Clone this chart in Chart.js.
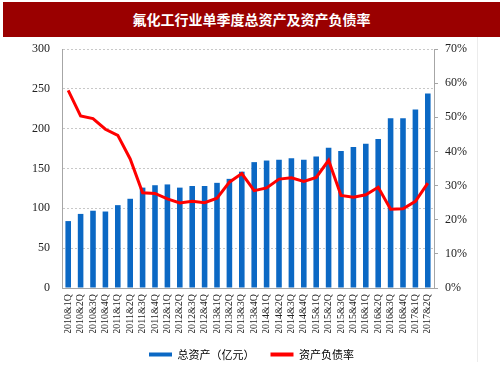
<!DOCTYPE html>
<html>
<head>
<meta charset="utf-8">
<script src="https://cdn.jsdelivr.net/npm/chart.js@4"></script>
<style>
html,body{margin:0;padding:0;background:#fff;}
#wrap{position:relative;width:503px;height:378px;overflow:hidden;}
#banner{position:absolute;left:3px;top:2px;width:497px;height:35px;background:#9a0000;color:#fff;
font-family:"Noto Sans CJK SC",sans-serif;font-weight:700;font-size:14px;line-height:35px;text-align:center;}
#rline{position:absolute;left:477px;top:37px;width:1px;height:325px;background:#ececec;}
canvas{position:absolute;left:0;top:0;}
</style>
</head>
<body>
<div id="wrap">
<canvas id="c" width="503" height="378"></canvas>
<div id="banner">氟化工行业单季度总资产及资产负债率</div>
<div id="rline"></div>
</div>
<script>
const categories = ["2010&1Q","2010&2Q","2010&3Q","2010&4Q","2011&1Q","2011&2Q","2011&3Q","2011&4Q",
"2012&1Q","2012&2Q","2012&3Q","2012&4Q","2013&1Q","2013&2Q","2013&3Q","2013&4Q",
"2014&1Q","2014&2Q","2014&3Q","2014&4Q","2015&1Q","2015&2Q","2015&3Q","2015&4Q",
"2016&1Q","2016&2Q","2016&3Q","2016&4Q","2017&1Q","2017&2Q"];
const totalAssets = [84,93,97,96,104,112,126,129,130,126,128,128,132,137,146,158,
160,161,163,161,165,176,172,177,181,187,213,213,224,244];
const debtRatio = [57.9,50.4,49.6,46.5,44.7,37.8,27.9,27.7,26.1,24.9,25.4,25.0,26.3,31.0,33.5,28.5,
29.3,31.9,32.3,31.2,32.4,37.4,27.1,26.6,27.3,29.5,23.1,23.2,25.4,30.7];
const leftTicks = [0,50,100,150,200,250,300];
const rightTicks = [0,10,20,30,40,50,60,70];

const axisGray = '#a6a6a6';
const serif = 'Liberation Serif';

new Chart(document.getElementById('c'), {
  data: {
    labels: categories,
    datasets: [
      {type:'bar', label:'总资产（亿元）', data: totalAssets, yAxisID:'y',
       backgroundColor:'#0b68c4', borderWidth:0, barPercentage:0.45, categoryPercentage:1, order:2},
      {type:'line', label:'资产负债率', data: debtRatio, yAxisID:'y2',
       borderColor:'#ff0000', backgroundColor:'#ff0000', borderWidth:3, pointRadius:0, tension:0, order:1}
    ]
  },
  options: {
    responsive:false, animation:false,
    layout:{padding:{top:49,left:0,right:0,bottom:8}},
    plugins:{
      tooltip:{enabled:false},
      legend:{position:'bottom',
        labels:{boxWidth:23, boxHeight:4, padding:16, color:'#333',
          font:{family:'Noto Sans CJK SC', size:11},
          generateLabels(chart){
            return chart.data.datasets.map((d,i)=>({text:d.label, fillStyle:d.backgroundColor,
              strokeStyle:d.backgroundColor, lineWidth:0, hidden:false, datasetIndex:i}));
          }}}
    },
    scales:{
      x:{type:'category', grid:{display:false, drawTicks:false},
        border:{display:true, color:axisGray},
        ticks:{autoSkip:false, minRotation:90, maxRotation:90, padding:6, color:'#222',
          font:{family:serif, size:10}},
        afterFit(s){ s.height = 45; }},
      y:{type:'linear', position:'left', min:0, max:300,
        afterBuildTicks(s){ s.ticks = leftTicks.map(v=>({value:v})); },
        grid:{color:'#c8c8c8', drawTicks:false, lineWidth:1},
        border:{display:true, color:axisGray, dash:[2,2]},
        ticks:{padding:12, color:'#222', font:{family:serif, size:12}},
        afterFit(s){ s.width = 62; }},
      y2:{type:'linear', position:'right', min:0, max:70,
        afterBuildTicks(s){ s.ticks = rightTicks.map(v=>({value:v})); },
        grid:{drawOnChartArea:false, drawTicks:true, tickLength:4, color:axisGray},
        border:{display:true, color:axisGray},
        ticks:{padding:7, color:'#222', font:{family:serif, size:12}, callback:v=>v+'%'},
        afterFit(s){ s.width = 69; }}
    }
  }
});
</script>
</body>
</html>
